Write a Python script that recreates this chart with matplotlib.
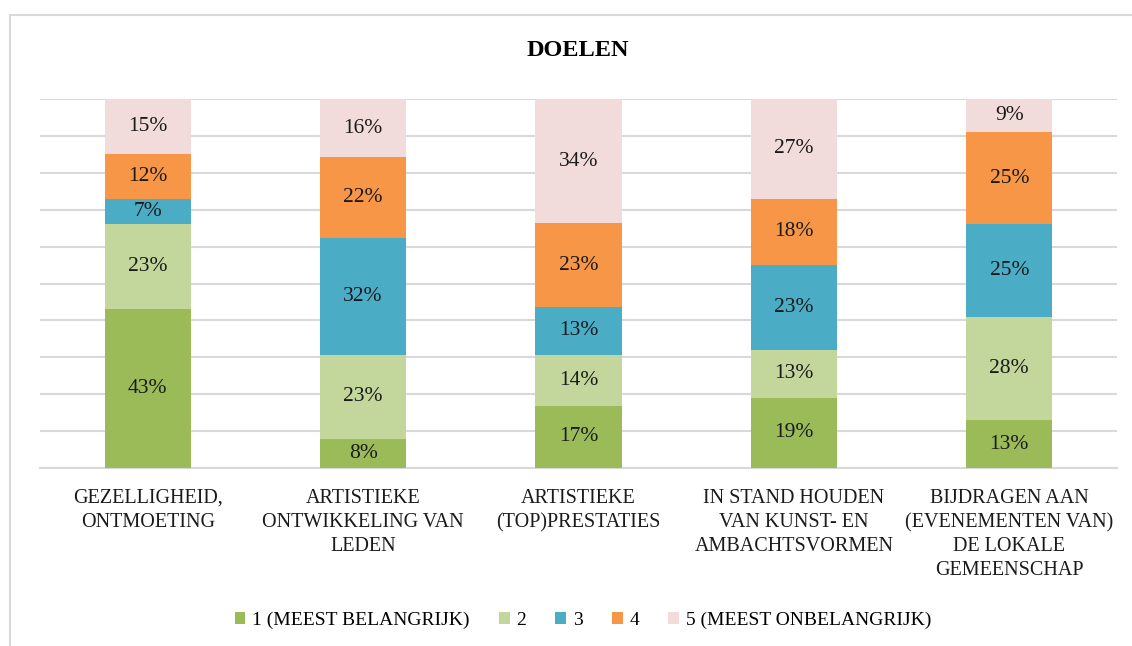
import matplotlib
matplotlib.use("Agg")
import matplotlib.pyplot as plt
import numpy as np
from matplotlib.patches import Rectangle, Patch

categories = ["GEZELLIGHEID,\nONTMOETING",
              "ARTISTIEKE\nONTWIKKELING VAN\nLEDEN",
              "ARTISTIEKE\n(TOP)PRESTATIES",
              "IN STAND HOUDEN\nVAN KUNST- EN\nAMBACHTSVORMEN",
              "BIJDRAGEN AAN\n(EVENEMENTEN VAN)\nDE LOKALE\nGEMEENSCHAP"]
series_names = ["1 (MEEST BELANGRIJK)", "2", "3", "4", "5 (MEEST ONBELANGRIJK)"]
s1 = [43, 8, 17, 19, 13]
s2 = [23, 23, 14, 13, 28]
s3 = [7, 32, 13, 23, 25]
s4 = [12, 22, 23, 18, 25]
s5 = [15, 16, 34, 27, 9]
colors = ["#9BBB59", "#C3D69B", "#4BACC6", "#F79646", "#F2DCDB"]
title = "DOELEN"

plt.rcParams['font.family'] = ['Liberation Serif', 'DejaVu Serif']

W, H = 1132, 646
fig = plt.figure(figsize=(W / 100, H / 100), dpi=100)
fig.patches.append(Rectangle((10 / W, -0.1), 1.2, 1 - 15 / H + 0.1, transform=fig.transFigure,
                             fill=False, edgecolor="#D9D9D9", linewidth=1.5, zorder=0))

ax = fig.add_axes([40 / W, 1 - 468 / H, (1117 - 40) / W, (468 - 99) / H])
data = np.array([s1, s2, s3, s4, s5], dtype=float)
pct = data / data.sum(axis=0) * 100
x = np.arange(len(categories))
bottom = np.zeros(len(categories))
for i in range(len(series_names)):
    ax.bar(x, pct[i], 0.4, bottom=bottom, color=colors[i], label=series_names[i], zorder=3)
    for j in range(len(categories)):
        ax.text(x[j], bottom[j] + pct[i][j] / 2, f"{int(data[i][j])}%", ha="center", va="center",
                fontsize=15.5, color="#1a1a1a", zorder=4)
    bottom += pct[i]

ax.set_xlim(-0.5, len(categories) - 0.5)
ax.set_ylim(0, 100)
ax.set_yticks(np.arange(0, 101, 10))
ax.yaxis.grid(True, color="#D9D9D9", linewidth=1.5, zorder=0)
ax.tick_params(axis="y", left=False, labelleft=False)
for sp in ["top", "right", "left"]:
    ax.spines[sp].set_visible(False)
ax.spines["bottom"].set_color("#D9D9D9")
ax.spines["bottom"].set_linewidth(1.5)
ax.set_xticks(x)
ax.set_xticklabels(categories, fontsize=14.5, color="#1a1a1a", linespacing=1.35)
ax.tick_params(axis="x", length=0, pad=15)

fig.text(578 / W, 1 - 51 / H, title, ha="center", va="center", fontsize=17.5, fontweight="bold")

handles = [Patch(facecolor=c, edgecolor="none") for c in colors]
fig.legend(handles, series_names, loc="center", bbox_to_anchor=(583 / W, 1 - 620 / H), ncol=5,
           frameon=False, fontsize=14, handlelength=0.55, handleheight=0.55, handletextpad=0.35,
           columnspacing=1.5)

fig.savefig("out.png", dpi=100, facecolor="white")
